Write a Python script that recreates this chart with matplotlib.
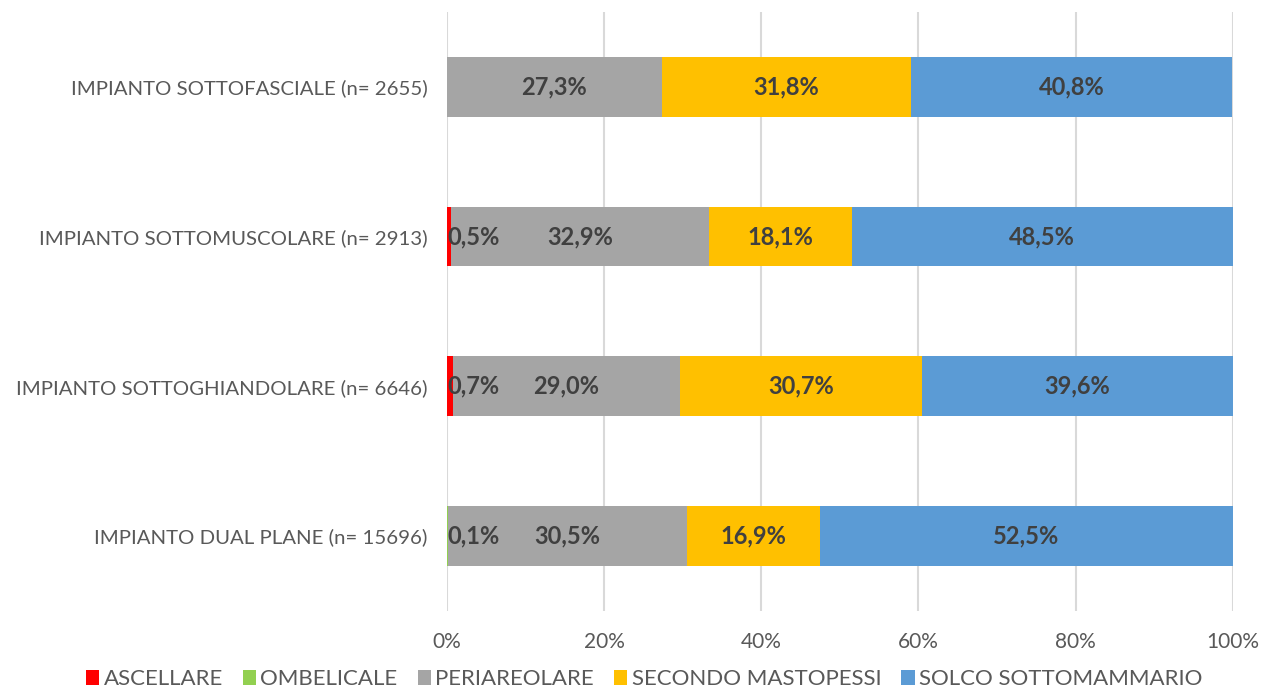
import matplotlib.pyplot as plt
import numpy as np

plt.rcParams['font.family'] = ['Lato', 'DejaVu Sans']

categorie = ["IMPIANTO SOTTOFASCIALE (n= 2655)",
             "IMPIANTO SOTTOMUSCOLARE (n= 2913)",
             "IMPIANTO SOTTOGHIANDOLARE (n= 6646)",
             "IMPIANTO DUAL PLANE (n= 15696)"]
serie = ["ASCELLARE", "OMBELICALE", "PERIAREOLARE", "SECONDO MASTOPESSI", "SOLCO SOTTOMAMMARIO"]
ascellare = [0.0, 0.5, 0.7, 0.0]
ombelicale = [0.0, 0.0, 0.0, 0.1]
periareolare = [27.3, 32.9, 29.0, 30.5]
mastopessi = [31.8, 18.1, 30.7, 16.9]
sottomammario = [40.8, 48.5, 39.6, 52.5]
colori = ["#FF0000", "#92D050", "#A5A5A5", "#FFC000", "#5B9BD5"]

valori = [ascellare, ombelicale, periareolare, mastopessi, sottomammario]

fig = plt.figure(figsize=(12.63, 6.92), dpi=100)
ax = fig.add_axes([0.354, 0.117, 0.622, 0.866])

y = np.arange(len(categorie))
left = np.zeros(len(categorie))
for nome, v, c in zip(serie, valori, colori):
    v = np.array(v)
    ax.barh(y, v, left=left, height=0.4, color=c, label=nome, zorder=2)
    for i in range(len(categorie)):
        if v[i] <= 0:
            continue
        testo = f"{v[i]:.1f}%".replace(".", ",")
        if v[i] < 2:
            ax.text(left[i], y[i], testo, ha="left", va="center",
                    fontsize=17, fontweight="bold", color="#404040", zorder=3)
        else:
            ax.text(left[i] + v[i] / 2, y[i], testo, ha="center", va="center",
                    fontsize=17, fontweight="bold", color="#404040", zorder=3)
    left += v

ax.set_xlim(0, 100)
ax.set_ylim(3.5, -0.5)
ax.set_yticks(y)
ax.set_yticklabels(categorie, fontsize=14.7, color="#595959")
ax.set_xticks(np.arange(0, 101, 20))
ax.set_xticklabels([f"{t}%" for t in range(0, 101, 20)], fontsize=15, color="#595959")
ax.tick_params(axis="both", length=0)
ax.tick_params(axis="x", pad=15)
ax.tick_params(axis="y", pad=14)
ax.grid(axis="x", color="#D9D9D9", linewidth=1.5, zorder=0)
for s in ax.spines.values():
    s.set_visible(False)

fig.legend(loc="lower center", bbox_to_anchor=(0.51, -0.025), ncol=5, frameon=False,
           fontsize=16, handlelength=0.6, handleheight=0.6, handletextpad=0.2,
           columnspacing=0.9, labelcolor="#595959")

fig.savefig("out.png", dpi=100)
